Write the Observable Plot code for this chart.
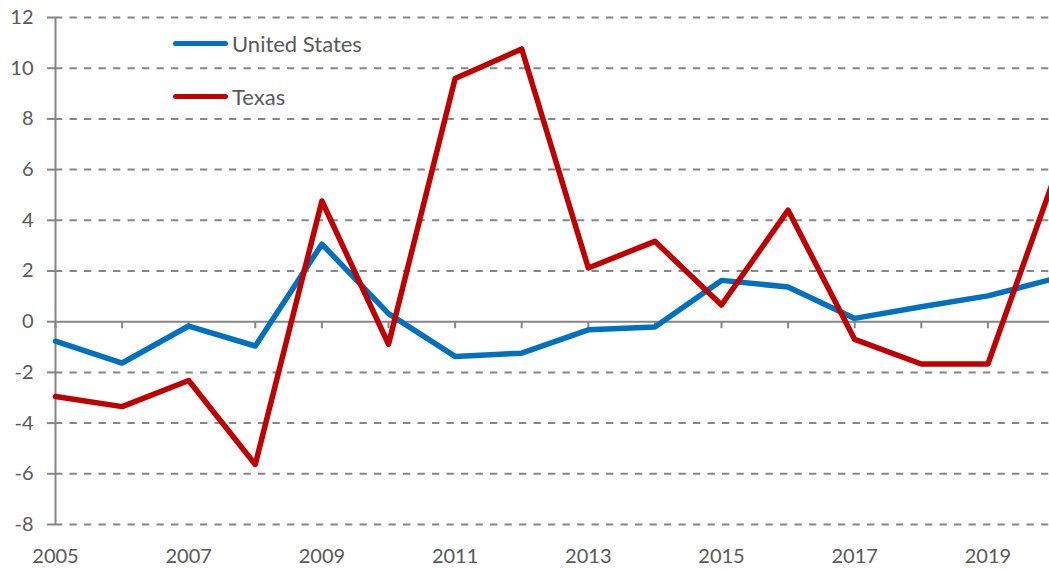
<!DOCTYPE html>
<html>
<head>
<meta charset="utf-8">
<script src="https://cdn.jsdelivr.net/npm/d3@7"></script>
<script src="https://cdn.jsdelivr.net/npm/@observablehq/plot@0.6"></script>
<style>
  html, body { margin: 0; padding: 0; background: #fff; overflow: hidden; }
  #wrap { position: relative; width: 1049px; height: 569px; overflow: hidden; }
  #wrap svg { max-width: none !important; width: 1060px; height: 569px; display: block; }
  .legend { position: absolute; left: 173px; font-family: Lato, sans-serif; font-size: 22px; color: #595959; display: flex; align-items: center; }
  .legend .sw { display: inline-block; width: 55px; height: 5px; border-radius: 3px; margin-right: 4px; }
</style>
</head>
<body>
<div id="wrap"></div>
<script>
const years = [2005, 2006, 2007, 2008, 2009, 2010, 2011, 2012, 2013, 2014, 2015, 2016, 2017, 2018, 2019, 2020];
const unitedStates = [-0.77, -1.63, -0.17, -0.96, 3.06, 0.32, -1.37, -1.24, -0.32, -0.21, 1.63, 1.37, 0.13, 0.59, 1.02, 1.70];
const texas = [-2.95, -3.35, -2.32, -5.63, 4.76, -0.89, 9.59, 10.76, 2.12, 3.17, 0.66, 4.40, -0.70, -1.67, -1.67, 5.70];
const seriesNames = ["United States", "Texas"];
const seriesColors = ["#0070C0", "#C00000"];
const yTicks = [-8, -6, -4, -2, 0, 2, 4, 6, 8, 10, 12];
const xLabelYears = [2005, 2007, 2009, 2011, 2013, 2015, 2017, 2019];

const usData = years.map((y, i) => ({year: y, value: unitedStates[i]}));
const txData = years.map((y, i) => ({year: y, value: texas[i]}));
const gridTicks = yTicks.filter(d => d !== 0);

const chart = Plot.plot({
  width: 1060,
  height: 569,
  marginLeft: 55,
  marginRight: 6,
  marginTop: 17,
  marginBottom: 45,
  style: {fontFamily: "Lato, sans-serif", fontSize: "20px", color: "#595959", background: "#fff", maxWidth: "none"},
  x: {domain: [2005, 2020]},
  y: {domain: [-8, 12]},
  marks: [
    Plot.ruleY(gridTicks, {stroke: "#868686", strokeWidth: 2, strokeDasharray: "7.3,7.2"}),
    Plot.ruleY([0], {stroke: "#868686", strokeWidth: 2}),
    Plot.ruleX([2005], {stroke: "#868686", strokeWidth: 2}),
    Plot.ruleX(years, {x: d => d, y1: 0, y2: 0, insetBottom: -7, stroke: "#868686", strokeWidth: 2}),
    Plot.axisY({ticks: yTicks, tickSize: 8, tickPadding: 14, tickFormat: d => String(d), stroke: "#868686", strokeWidth: 2, fill: "#595959", fontSize: 20, label: null}),
    Plot.axisX({ticks: xLabelYears, tickSize: 0, tickPadding: 24, tickFormat: d => String(d), fill: "#595959", fontSize: 20, label: null}),
    Plot.line(usData, {x: "year", y: "value", stroke: seriesColors[0], strokeWidth: 5.5, strokeLinejoin: "round", strokeLinecap: "round"}),
    Plot.line(txData, {x: "year", y: "value", stroke: seriesColors[1], strokeWidth: 5.5, strokeLinejoin: "round", strokeLinecap: "round"})
  ]
});
const wrap = document.getElementById("wrap");
wrap.appendChild(chart);

const legendTops = [43, 96];
seriesNames.forEach((name, i) => {
  const item = document.createElement("div");
  item.className = "legend";
  item.style.top = (legendTops[i] - 13) + "px";
  item.style.height = "26px";
  const sw = document.createElement("span");
  sw.className = "sw";
  sw.style.background = seriesColors[i];
  item.appendChild(sw);
  item.appendChild(document.createTextNode(name));
  wrap.appendChild(item);
});
</script>
</body>
</html>
